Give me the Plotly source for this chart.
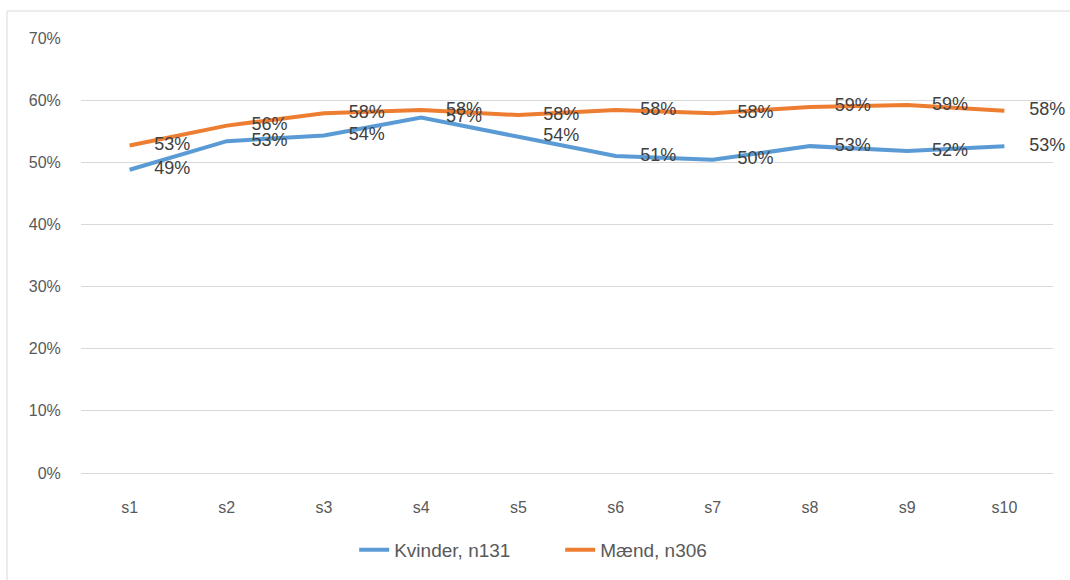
import plotly.graph_objects as go

# data
categories = ["s1", "s2", "s3", "s4", "s5", "s6", "s7", "s8", "s9", "s10"]
kvinder = [0.488, 0.534, 0.543, 0.572, 0.541, 0.510, 0.504, 0.526, 0.518, 0.526]
maend = [0.527, 0.559, 0.579, 0.584, 0.576, 0.584, 0.579, 0.589, 0.592, 0.583]
y_ticks = [0, 0.1, 0.2, 0.3, 0.4, 0.5, 0.6, 0.7]

BLUE = "#5B9BD5"
ORANGE = "#ED7D31"
FONT = "Liberation Sans"


def series(name, values, color):
    # invisible markers only push the data labels away from the line
    return go.Scatter(
        x=categories, y=values, name=name,
        mode="lines+markers+text",
        line=dict(color=color, width=4),
        marker=dict(size=38, color="rgba(0,0,0,0)"),
        text=[f"{v:.0%}" for v in values],
        textposition="middle right",
        textfont=dict(size=18, color="#404040", family=FONT),
        cliponaxis=False,
    )


fig = go.Figure()
fig.add_trace(series("Kvinder, n131", kvinder, BLUE))
fig.add_trace(series("Mænd, n306", maend, ORANGE))

fig.update_layout(
    width=1070, height=580,
    margin=dict(l=81, r=17, t=38, b=106),
    paper_bgcolor="white",
    plot_bgcolor="white",
    font=dict(family=FONT, size=16, color="#595959"),
    showlegend=True,
    legend=dict(
        orientation="h", x=0.493, xanchor="center", y=-76 / 436, yanchor="middle",
        font=dict(size=19, color="#595959"),
        entrywidth=161, entrywidthmode="pixels",
    ),
    xaxis=dict(
        type="category", range=[-0.5, 9.5],
        showgrid=False, showline=False, zeroline=False,
        ticks="outside", ticklen=20, tickcolor="rgba(0,0,0,0)",
        tickfont=dict(size=16, color="#595959"),
    ),
    yaxis=dict(
        range=[0, 0.7], tickvals=y_ticks, tickformat=".0%",
        showgrid=True, gridcolor="#D9D9D9", gridwidth=1,
        zeroline=True, zerolinecolor="#D9D9D9", zerolinewidth=1,
        showline=False, ticks="outside", ticklen=16, tickcolor="rgba(0,0,0,0)",
        tickfont=dict(size=16, color="#595959"),
    ),
    shapes=[dict(
        type="rect", xref="paper", yref="paper",
        x0=-74 / 972, x1=1 + 20 / 972, y0=-110 / 436, y1=1 + 27 / 436,
        line=dict(color="#D9D9D9", width=1), fillcolor="rgba(0,0,0,0)",
        layer="below",
    )],
)

fig.write_html("out.html", config={"displayModeBar": False},
               post_script="document.body.style.margin='0';")
